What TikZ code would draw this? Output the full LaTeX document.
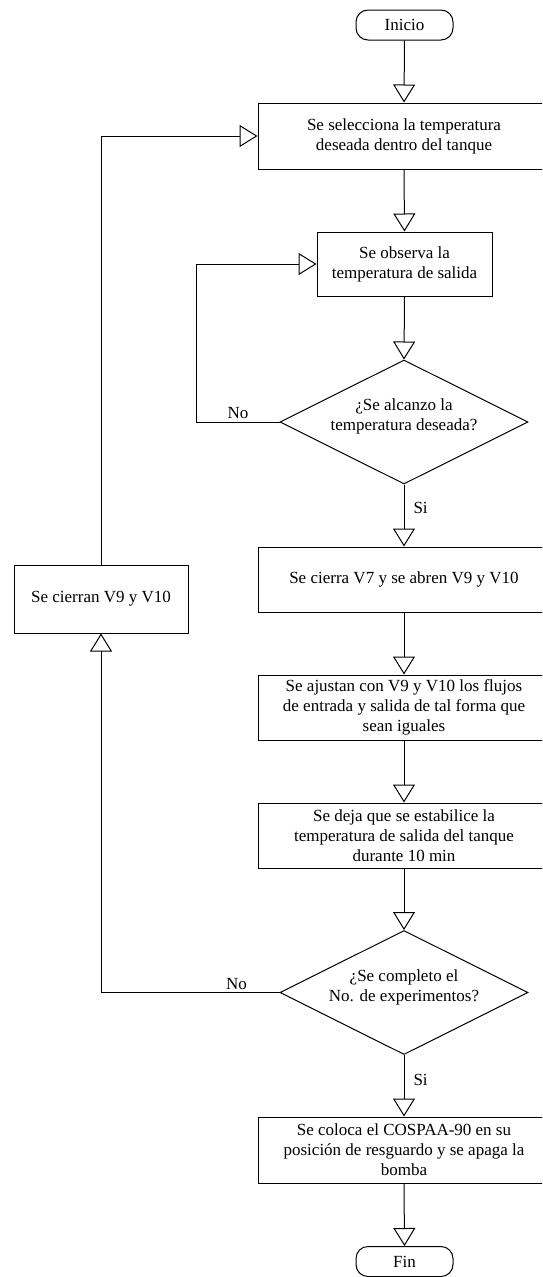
\documentclass[tikz,border=0pt]{standalone}
\usepackage{fontspec}
\setmainfont{Liberation Serif}
\usetikzlibrary{arrows.meta,shapes.geometric,calc}
\begin{document}
\begin{tikzpicture}[x=1pt,y=-1pt,
  every node/.style={font=\fontsize{17}{20}\selectfont, align=center},
  proc/.style={draw, line width=1pt, rectangle, inner sep=0pt, minimum width=292pt},
  term/.style={draw, line width=1pt, rectangle, rounded corners=12pt, inner sep=0pt, minimum width=97pt, minimum height=30pt},
  decis/.style={draw, line width=1pt, diamond, shape aspect=2, inner sep=0pt, minimum width=248pt, minimum height=124pt},
  flow/.style={line width=1pt, -{Triangle[open, length=18pt, width=22pt, line width=1pt]}},
  lbl/.style={inner sep=1pt}]
\clip (0,0) rectangle (542,1277);
\fill[white] (0,0) rectangle (542,1277);

\node[term] (inicio) at (404.5,25) {Inicio};
\node[proc, minimum height=66pt] (b1) at (404,136) {Se selecciona la temperatura\\deseada dentro del tanque};
\node[proc, minimum width=175pt, minimum height=64pt] (b2) at (404.5,264) {Se observa la\\temperatura de salida};
\node[decis] (d1) at (404,422) {¿Se alcanzo la\\temperatura deseada?\\[-6pt]};
\node[proc, minimum height=65pt] (b3) at (404,579.5) {Se cierra V7 y se abren V9 y V10};
\node[proc, minimum height=65pt] (b4) at (404,707.5) {Se ajustan con V9 y V10 los flujos\\de entrada y salida de tal forma que\\sean iguales};
\node[proc, minimum height=65pt] (b5) at (404,835.5) {Se deja que se estabilice la\\temperatura de salida del tanque\\durante 10 min};
\node[decis] (d2) at (404,992.5) {¿Se completo el\\No. de experimentos?\\[-6pt]};
\node[proc, minimum height=66pt] (b6) at (404,1150) {Se coloca el COSPAA-90 en su\\posición de resguardo y se apaga la\\bomba};
\node[term] (fin) at (404.5,1261.5) {Fin};
\node[proc, minimum width=174pt, minimum height=68pt] (cierran) at (101,599) {Se cierran V9 y V10};

\draw[flow] (inicio.south) -- (b1.north);
\draw[flow] (b1.south) -- (b2.north);
\draw[flow] (b2.south) -- (d1.north);
\draw[flow] (d1.south) -- node[right, pos=0.38, lbl, xshift=8pt] {Si} (b3.north);
\draw[flow] (b3.south) -- (b4.north);
\draw[flow] (b4.south) -- (b5.north);
\draw[flow] (b5.south) -- (d2.north);
\draw[flow] (d2.south) -- node[right, pos=0.4, lbl, xshift=8pt] {Si} (b6.north);
\draw[flow] (b6.south) -- (fin.north);

\draw[flow] (d1.west) -- node[above, lbl, yshift=2pt] {No} ++(-83,0) |- (b2.west);
\draw[flow] (d2.west) -| (cierran.south);
\node[above, lbl, yshift=2pt] (no2) at ($(d2.west)+(-43,0)$) {No};
\draw[flow] (cierran.north) |- (b1.west);
\end{tikzpicture}
\end{document}
